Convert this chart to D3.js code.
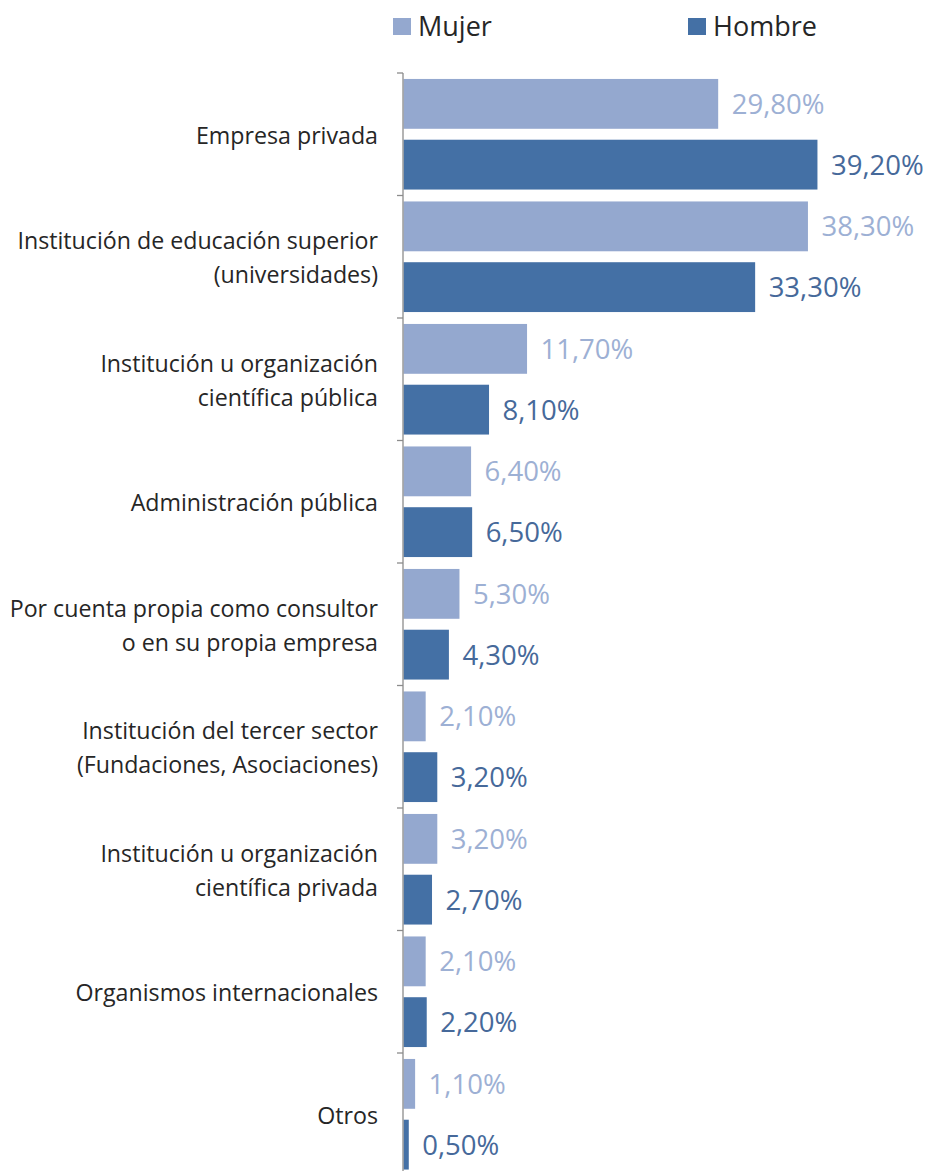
<!DOCTYPE html>
<html>
<head>
<meta charset="utf-8">
<script src="https://cdn.jsdelivr.net/npm/d3@7"></script>
<style>
html,body{margin:0;padding:0;background:#fff;}
svg{display:block;}
text{font-family:"Open Sans",Lato,sans-serif;}
</style>
</head>
<body>
<svg id="chart" width="930" height="1171"></svg>
<script>
const categories = [
  ["Empresa privada"],
  ["Institución de educación superior", "(universidades)"],
  ["Institución u organización", "científica pública"],
  ["Administración pública"],
  ["Por cuenta propia como consultor", "o en su propia empresa"],
  ["Institución del tercer sector", "(Fundaciones, Asociaciones)"],
  ["Institución u organización", "científica privada"],
  ["Organismos internacionales"],
  ["Otros"]
];
const seriesNames = ["Mujer", "Hombre"];
const mujer  = [29.8, 38.3, 11.7, 6.4, 5.3, 2.1, 3.2, 2.1, 1.1];
const hombre = [39.2, 33.3, 8.1, 6.5, 4.3, 3.2, 2.7, 2.2, 0.5];
const barColors = ["#94A8CF", "#4470A5"];
const labelColors = ["#9DB0D4", "#46699A"];

const svg = d3.select("#chart");
const axisX = 403;
const y = d3.scaleBand().domain(d3.range(categories.length)).range([73, 73 + 9 * 122.5]).paddingInner(0).paddingOuter(0);
const ySub = d3.scaleBand().domain(seriesNames).range([0, y.bandwidth()]).paddingInner(0.18).paddingOuter(0.098);
const x = d3.scaleLinear().domain([0, 40]).range([axisX, axisX + 40 * 10.56]);

const data = categories.map((c, i) => ({i, vals: [mujer[i], hombre[i]]}));

const g = svg.append("g");
data.forEach(d => {
  d.vals.forEach((v, s) => {
    const yy = y(d.i) + ySub(seriesNames[s]);
    g.append("rect")
      .attr("x", x(0) + 0.5)
      .attr("y", yy)
      .attr("width", x(v) - x(0))
      .attr("height", ySub.bandwidth())
      .attr("fill", barColors[s]);
    g.append("text")
      .attr("x", x(v) + 14)
      .attr("y", yy + ySub.bandwidth() / 2)
      .attr("dy", "0.36em")
      .attr("font-size", 27.5)
      .attr("fill", labelColors[s])
      .text(v.toFixed(2).replace(".", ",") + "%");
  });
});

// axis
const axis = d3.axisLeft(y).tickSize(0).tickFormat("");
const ax = svg.append("g").attr("transform", `translate(${axisX},0)`).call(axis);
ax.select(".domain").attr("stroke", "#8C8C8C").attr("stroke-width", 1.3).attr("d", `M0,${y.range()[0]}V${y.range()[1]}`);
const bounds = d3.range(categories.length + 1).map(i => y.range()[0] + i * y.step());
ax.selectAll(".bt").data(bounds).enter().append("line")
  .attr("x1", -6).attr("x2", 0).attr("y1", d => d).attr("y2", d => d)
  .attr("stroke", "#8C8C8C").attr("stroke-width", 1.3);

// category labels
const lineH = 34;
categories.forEach((lines, i) => {
  const cy = y(i) + y.bandwidth() / 2 + 1;
  const t = svg.append("text")
    .attr("text-anchor", "end")
    .attr("font-size", 23.2)
    .attr("fill", "#262626");
  lines.forEach((ln, k) => {
    t.append("tspan")
      .attr("x", 378)
      .attr("y", cy + (k - (lines.length - 1) / 2) * lineH)
      .attr("dy", "0.36em")
      .text(ln);
  });
});

// legend
const legendX = [393, 688];
seriesNames.forEach((n, s) => {
  svg.append("rect").attr("x", legendX[s]).attr("y", 18).attr("width", 18).attr("height", 17).attr("fill", barColors[s]);
  svg.append("text").attr("x", legendX[s] + 25).attr("y", 26.5).attr("dy", "0.36em")
    .attr("font-size", 27).attr("fill", "#262626").text(n);
});
</script>
</body>
</html>
